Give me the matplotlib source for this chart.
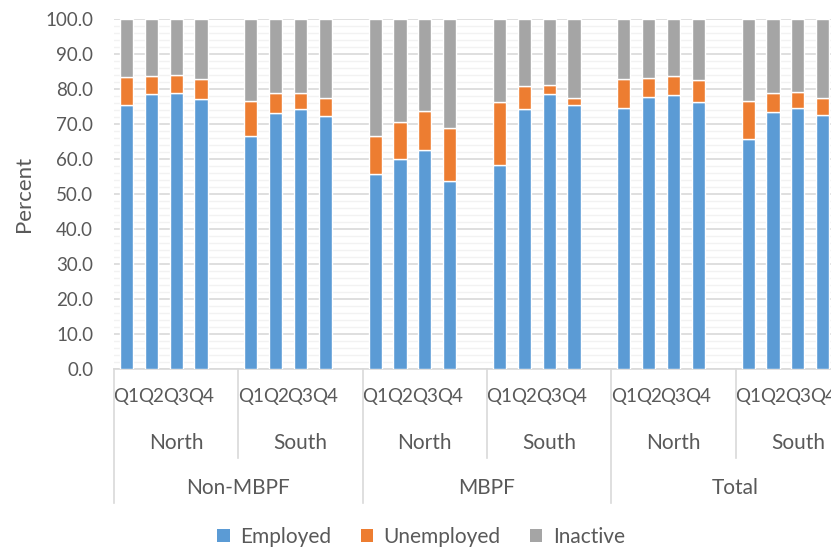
import matplotlib.pyplot as plt
from matplotlib.lines import Line2D
from matplotlib.patches import Patch
from matplotlib.transforms import blended_transform_factory

plt.rcParams["font.family"] = ["Lato", "DejaVu Sans"]

sectors = ["Non-MBPF", "MBPF", "Total"]
regions = ["North", "South"]
quarters = ["Q1", "Q2", "Q3", "Q4"]

# one value per (sector, region, quarter), in that order
employed = [
    75.3, 78.5, 78.8, 77.1,
    66.6, 73.2, 74.3, 72.3,
    55.7, 60.0, 62.7, 53.6,
    58.4, 74.4, 78.5, 75.4,
    74.6, 77.8, 78.3, 76.2,
    65.8, 73.3, 74.7, 72.6,
]
unemployed = [
    8.0, 5.1, 5.2, 5.8,
    10.1, 5.6, 4.6, 5.1,
    10.9, 10.7, 11.0, 15.2,
    18.0, 6.5, 2.6, 2.1,
    8.2, 5.3, 5.3, 6.4,
    10.9, 5.6, 4.4, 4.8,
]
inactive = [
    16.7, 16.4, 16.0, 17.1,
    23.3, 21.2, 21.1, 22.6,
    33.4, 29.3, 26.3, 31.2,
    23.6, 19.1, 18.9, 22.5,
    17.2, 16.9, 16.4, 17.4,
    23.3, 21.1, 20.9, 22.6,
]

colors = {"Employed": "#5B9BD5", "Unemployed": "#ED7D31", "Inactive": "#A5A5A5"}
text_color = "#595959"
line_color = "#D9D9D9"

# 4 bars per region group plus one empty slot
slots = len(quarters) + 1
n_groups = len(sectors) * len(regions)
xs = [g * slots + q + 0.5 for g in range(n_groups) for q in range(len(quarters))]

fig = plt.figure(figsize=(8.31, 5.48), dpi=100)
# the plot runs past the right edge of the figure
ax = fig.add_axes([114 / 831, 179 / 548, 746 / 831, 350 / 548])

bottom = [0.0] * len(xs)
for name, vals in [("Employed", employed), ("Unemployed", unemployed), ("Inactive", inactive)]:
    ax.bar(xs, vals, width=0.53, bottom=bottom, color=colors[name],
           edgecolor="white", linewidth=1.0, zorder=3)
    bottom = [b + v for b, v in zip(bottom, vals)]

ax.set_xlim(0, n_groups * slots)
ax.set_ylim(0, 100)
ax.set_yticks(range(0, 101, 10))
ax.set_yticks(range(0, 101, 2), minor=True)
ax.set_yticklabels([f"{v:.1f}" for v in range(0, 101, 10)])
ax.grid(axis="y", which="major", color=line_color, linewidth=1.2, zorder=0)
ax.grid(axis="y", which="minor", color="#F2F2F2", linewidth=1.0, zorder=0)
ax.tick_params(axis="y", which="both", length=0, labelsize=13.5,
               labelcolor=text_color, pad=15)
ax.set_ylabel("Percent", fontsize=16, color=text_color, labelpad=8)

ax.set_xticks(xs)
ax.set_xticklabels(quarters * n_groups)
ax.tick_params(axis="x", length=0, labelsize=13.5, labelcolor=text_color, pad=14)

for side in ["top", "right", "left"]:
    ax.spines[side].set_visible(False)
ax.spines["bottom"].set_color(line_color)
ax.spines["bottom"].set_linewidth(1.2)

tr = blended_transform_factory(ax.transData, ax.transAxes)
y_region = (369 - 443) / 350
y_sector = (369 - 488) / 350
for g in range(n_groups):
    ax.text(g * slots + slots / 2, y_region, regions[g % len(regions)],
            transform=tr, ha="center", va="center", fontsize=15, color=text_color)
for s, name in enumerate(sectors):
    ax.text((s + 0.5) * slots * len(regions), y_sector, name,
            transform=tr, ha="center", va="center", fontsize=15, color=text_color)

# category dividers below the axis
for g in range(n_groups + 1):
    x = g * slots
    low = (369 - 503) / 350 if g % len(regions) == 0 else (369 - 458) / 350
    ax.add_line(Line2D([x, x], [0, low], transform=tr, color=line_color,
                       linewidth=1.2, clip_on=False))

handles = [Patch(facecolor=c, edgecolor="none", label=n) for n, c in colors.items()]
fig.legend(handles=handles, loc="center", bbox_to_anchor=(421 / 831, 1 - 537 / 548),
           ncol=3, frameon=False, fontsize=15, labelcolor=text_color,
           handlelength=0.6, handleheight=0.6, handletextpad=0.5, columnspacing=1.4)

fig.savefig("out.png", dpi=100)
